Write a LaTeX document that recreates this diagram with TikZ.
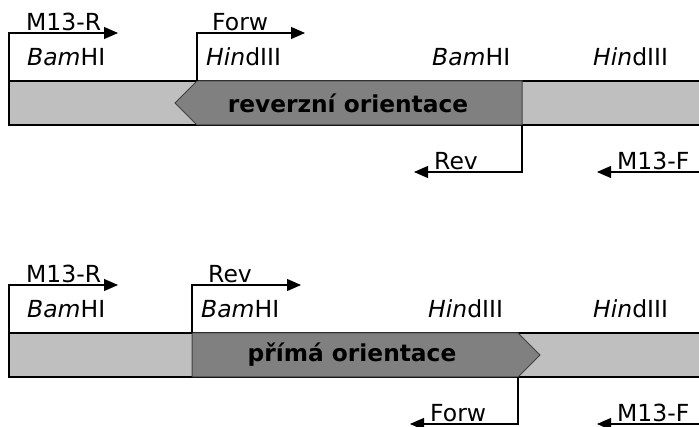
\documentclass[tikz,border=0pt]{standalone}
\usepackage{fontspec}
\setmainfont{DejaVu Sans}
\usetikzlibrary{arrows.meta}
\definecolor{lightbar}{gray}{0.75}
\definecolor{darkins}{gray}{0.5}
\begin{document}
\begin{tikzpicture}[x=1pt,y=-1pt,
 lbl/.style={anchor=base west, inner sep=0pt, font=\fontsize{23.5}{27}\selectfont},
 ttl/.style={inner sep=0pt, font=\fontsize{23.3}{27}\selectfont\bfseries},
 primer/.style={line width=1.1pt, -{Triangle[length=14pt,width=12pt]}},
 bar/.style={fill=lightbar, draw=black, line width=1.4pt},
 ins/.style={fill=darkins, draw=black!75, line width=1pt}]
\useasboundingbox (0,0) rectangle (699,427);
% ---------- top: reverse orientation ----------
\draw[bar] (9,81) rectangle (712,125);
\draw[ins] (197,81) -- (522,81) -- (522,125) -- (197,125) -- (175,103) -- cycle;
\node[ttl] (t1) at (348,103) {reverzní orientace};
\coordinate (a1) at (9,81);    \coordinate (a1e) at (118,33);
\coordinate (b1) at (197,81);  \coordinate (b1e) at (305,33);
\coordinate (c1) at (522,125); \coordinate (c1e) at (414,172);
\coordinate (d1) at (712,172); \coordinate (d1e) at (597,172);
\draw[primer] (a1) |- (a1e);
\draw[primer] (b1) |- (b1e);
\draw[primer] (c1) |- (c1e);
\draw[primer] (d1) -- (d1e);
\node[lbl] (l1) at (26,31) {M13-R};
\node[lbl] (l2) at (212,31) {Forw};
\node[lbl] (l3) at (27,66) {\itshape Bam\upshape HI};
\node[lbl] (l4) at (206,66) {\itshape Hin\upshape dIII};
\node[lbl] (l5) at (432,66) {\itshape Bam\upshape HI};
\node[lbl] (l6) at (593,66) {\itshape Hin\upshape dIII};
\node[lbl] (l7) at (434,170) {Rev};
\node[lbl] (l8) at (617,170) {M13-F};
% ---------- bottom: direct orientation ----------
\draw[bar] (9,333) rectangle (712,377);
\draw[ins] (192,333) -- (518,333) -- (540,355) -- (518,377) -- (192,377) -- cycle;
\node[ttl] (t2) at (352,355) {přímá orientace};
\coordinate (a2) at (9,333);   \coordinate (a2e) at (118,285);
\coordinate (b2) at (192,333); \coordinate (b2e) at (301,285);
\coordinate (c2) at (518,377); \coordinate (c2e) at (410,424);
\coordinate (d2) at (712,424); \coordinate (d2e) at (597,424);
\draw[primer] (a2) |- (a2e);
\draw[primer] (b2) |- (b2e);
\draw[primer] (c2) |- (c2e);
\draw[primer] (d2) -- (d2e);
\node[lbl] (m1) at (26,283) {M13-R};
\node[lbl] (m2) at (208,283) {Rev};
\node[lbl] (m3) at (27,318) {\itshape Bam\upshape HI};
\node[lbl] (m4) at (201,318) {\itshape Bam\upshape HI};
\node[lbl] (m5) at (428,318) {\itshape Hin\upshape dIII};
\node[lbl] (m6) at (593,318) {\itshape Hin\upshape dIII};
\node[lbl] (m7) at (430,422) {Forw};
\node[lbl] (m8) at (617,422) {M13-F};
\end{tikzpicture}
\end{document}
